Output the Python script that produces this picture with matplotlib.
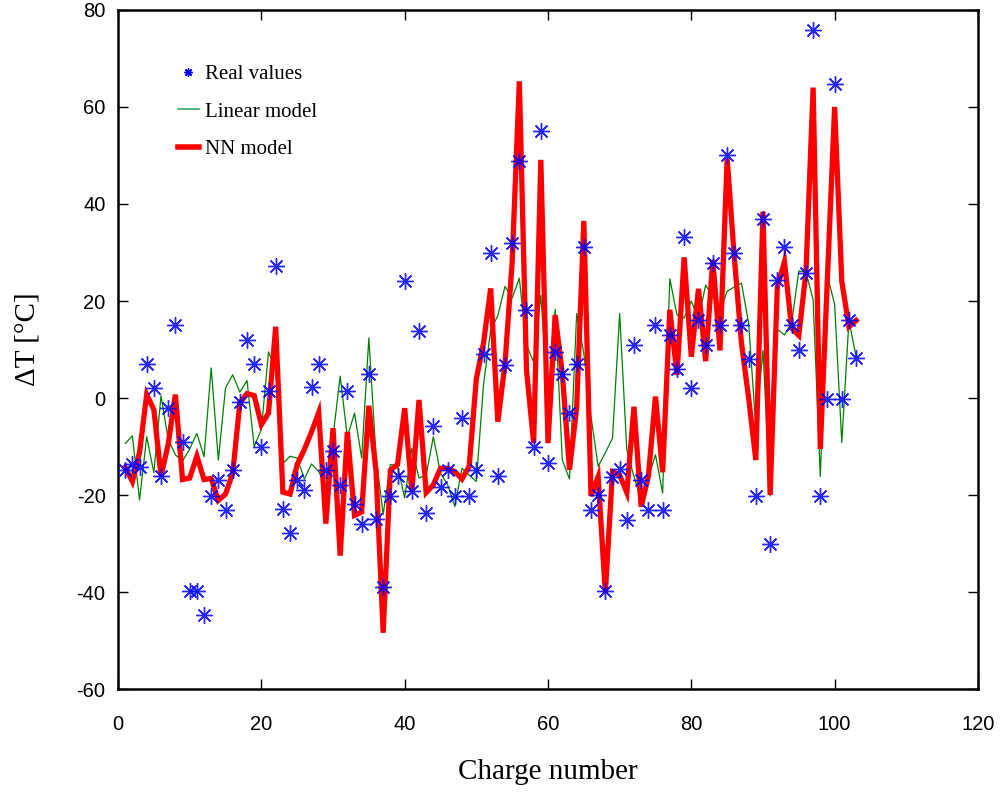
import matplotlib
matplotlib.use("Agg")
import matplotlib.pyplot as plt
from matplotlib.lines import Line2D
import numpy as np

plt.rcParams["axes.unicode_minus"] = False

charge = list(range(1, 104))

real_values = [
    -14.8, -13.7, -14.2, 7.0, 2.0, -16.1, -2.0, 15.1, -9.1, -39.8,
    -39.8, -44.7, -20.1, -16.8, -23.0, -14.9, -0.9, 12.0, 7.0, -10.0,
    1.4, 27.2, -22.9, -27.9, -16.8, -18.9, 2.2, 7.0, -14.8, -11.0,
    -18.0, 1.4, -21.8, -25.9, 5.0, -24.9, -38.9, -20.1, -16.0, 24.2,
    -19.1, 13.9, -23.7, -5.8, -18.3, -14.8, -20.2, -4.2, -20.2, -14.8,
    9.1, 29.9, -16.1, 6.8, 32.0, 48.9, 18.1, -10.0, 55.0, -13.3,
    9.5, 4.9, -3.0, 7.0, 31.2, -23.1, -20.0, -39.7, -16.2, -14.7,
    -25.1, 10.9, -16.9, -23.1, 15.0, -23.1, 13.0, 6.0, 33.2, 2.0,
    16.0, 11.0, 27.9, 15.0, 50.0, 29.9, 15.0, 8.1, -20.3, 37.0,
    -30.0, 24.3, 31.2, 15.0, 9.8, 25.7, 75.8, -20.3, -0.2, 64.8,
    -0.3, 16.0, 8.2,
]

linear_model = [
    -9.4, -7.8, -21.0, -8.0, -15.4, 0.5, -8.5, -11.7, -13.0, -10.5,
    -7.3, -12.1, 6.2, -12.8, 2.1, 4.8, 1.2, 3.6, -10.0, -6.5,
    9.5, 6.0, -13.5, -12.0, -12.4, -16.7, -13.6, -15.1, -18.5, -8.0,
    4.5, -8.0, -3.1, -12.4, 12.4, -12.0, -24.0, -13.7, -14.0, -20.6,
    -10.4, -16.5, -15.9, -8.0, -15.5, -17.9, -22.4, -14.5, -15.9, -17.2,
    2.7, 14.0, 17.0, 23.0, 20.6, 24.7, 10.9, 7.4, 21.2, 0.0,
    18.3, -12.8, -16.7, 17.4, 9.2, -3.8, -14.1, -11.3, -8.3, 17.4,
    -10.7, -16.2, -21.0, -16.5, -11.7, -19.6, 24.6, 17.1, 16.5, 20.0,
    16.2, 23.3, 20.8, 17.9, 22.0, 22.9, 23.7, 15.4, -6.0, 9.8,
    -20.2, 14.2, 13.0, 15.5, 26.2, 26.0, 20.2, -16.2, 25.2, 19.3,
    -9.2, 16.0, 8.5,
]

nn_model = [
    -14.3, -17.2, -11.2, 0.7, -2.4, -16.1, -9.5, 0.7, -16.8, -16.5,
    -12.0, -16.8, -16.6, -21.1, -19.8, -15.5, -1.0, 0.9, 0.5, -5.5,
    -3.1, 14.7, -19.4, -19.8, -13.7, -10.6, -7.0, -3.0, -25.9, -6.2,
    -32.5, -7.0, -24.2, -23.5, -1.6, -15.0, -48.4, -14.9, -13.7, -2.1,
    -19.3, -0.4, -19.5, -17.9, -14.5, -14.5, -15.2, -16.7, -14.1, 4.0,
    11.3, 22.6, -4.9, 7.1, 28.0, 65.3, 5.8, -9.3, 49.1, -9.3,
    17.1, 5.0, -14.8, -2.0, 36.5, -20.2, -16.2, -40.2, -15.2, -15.9,
    -19.5, -1.8, -22.4, -16.2, 0.3, -15.3, 18.2, 4.8, 29.0, 8.5,
    22.5, 7.6, 28.5, 9.8, 49.4, 29.0, 11.3, 0.0, -12.8, 38.4,
    -20.0, 22.9, 28.1, 14.4, 12.9, 26.0, 64.0, -10.5, 25.0, 60.0,
    24.0, 14.7, 16.0,
]

x_ticks = [0, 20, 40, 60, 80, 100, 120]
y_ticks = [-60, -40, -20, 0, 20, 40, 60, 80]

serif = ["Liberation Serif", "DejaVu Serif"]
sans = ["Liberation Sans", "DejaVu Sans"]

fig = plt.figure(figsize=(10.02, 7.92), dpi=100)
ax = fig.add_axes([0.1178, 0.13, 0.8582, 0.8574])

ax.plot(charge, linear_model, color=(0, 0.5, 0), linewidth=0.9, zorder=2)
ax.plot(charge, nn_model, color=(1, 0, 0), linewidth=3.8, zorder=3,
        solid_joinstyle="miter")
ax.plot(charge, real_values, linestyle="none", marker=(8, 2, 0),
        markersize=12, markeredgewidth=1.0, color=(0, 0, 1), alpha=0.85,
        zorder=4)

ax.set_xlim(0, 120)
ax.set_ylim(-60, 80)
ax.set_xticks(x_ticks)
ax.set_yticks(y_ticks)
ax.tick_params(direction="in", length=7, width=1, top=True, right=True,
               labelsize=14.5)
ax.tick_params(axis="x", pad=19)
ax.tick_params(axis="y", pad=9)
for lab in ax.get_xticklabels() + ax.get_yticklabels():
    lab.set_family(sans)
for s in ax.spines.values():
    s.set_linewidth(1.8)

ax.set_xlabel("Charge number", fontsize=21, family=serif, labelpad=18)
ax.set_ylabel("ΔT [°C]", fontsize=21, family=serif, labelpad=26)
ax.yaxis.label.set_y(0.515)

handles = [
    Line2D([], [], linestyle="none", marker=(8, 2, 0), markersize=6,
           markeredgewidth=1.0, color=(0, 0, 1)),
    Line2D([], [], color=(0.2, 0.65, 0.4), linewidth=1.2),
    Line2D([], [], color=(1, 0, 0), linewidth=4),
]
labels = ["Real values", "Linear model", "NN model"]
ax.legend(handles, labels, loc="upper left", bbox_to_anchor=(0.048, 0.947),
          frameon=False, prop={"family": serif, "size": 15},
          handlelength=1.0, handletextpad=0.3, labelspacing=0.85)

fig.savefig("out.png", dpi=100)
